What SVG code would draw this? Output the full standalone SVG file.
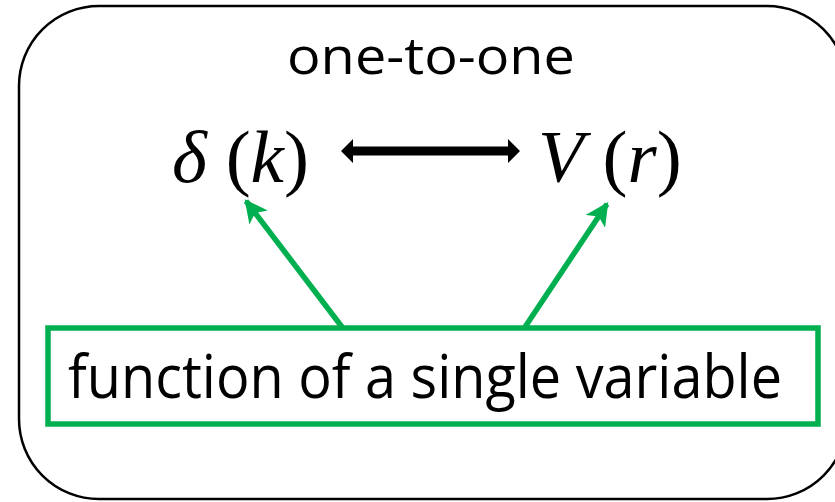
<svg xmlns="http://www.w3.org/2000/svg" width="835" height="502" viewBox="0 0 835 502">
<style>
.frame{fill:#fff;stroke:#000;stroke-width:2.5}
.gbox{fill:#fff;stroke:#00b050;stroke-width:5.5}
.glink{stroke:#00b050;stroke-width:5.5;fill:none}
.sans{font-family:"Open Sans","Liberation Sans",sans-serif;fill:#000}
.math{font-family:"Liberation Serif","Times New Roman",serif;fill:#000;font-size:75px}
.it{font-style:italic}
</style>
<defs>
<marker id="gh" viewBox="0 0 10 10" refX="9" refY="5" markerWidth="4.2" markerHeight="4.2" orient="auto" markerUnits="strokeWidth">
<path d="M0,0 L10,5 L0,10 L2.5,5 z" fill="#00b050"/>
</marker>
</defs>
<rect id="frame" class="frame" x="19" y="6" width="828" height="493" rx="80" ry="80"/>
<g id="title"><text class="sans" x="431" y="74" font-size="52" text-anchor="middle" textLength="288" lengthAdjust="spacingAndGlyphs">one-to-one</text></g>
<g id="delta"><text class="math" x="172" y="182"><tspan class="it">δ</tspan> (<tspan class="it">k</tspan>)</text></g>
<g id="potential"><text class="math" x="538" y="182"><tspan class="it">V</tspan> (<tspan class="it">r</tspan>)</text></g>
<g id="single">
<rect class="gbox" x="48" y="328" width="770" height="96"/>
<text class="sans" x="68" y="398" font-size="60" textLength="714" lengthAdjust="spacingAndGlyphs">function of a single variable</text>
</g>
<g id="connectors">
<path d="M341,151 L353,139 L353,146.5 L508,146.5 L508,139 L520,151 L508,163 L508,155.5 L353,155.5 L353,163 z" fill="#000"/>
<line class="glink" x1="342" y1="327" x2="246" y2="201" marker-end="url(#gh)"/>
<line class="glink" x1="525" y1="327" x2="607" y2="204" marker-end="url(#gh)"/>
</g>
</svg>
